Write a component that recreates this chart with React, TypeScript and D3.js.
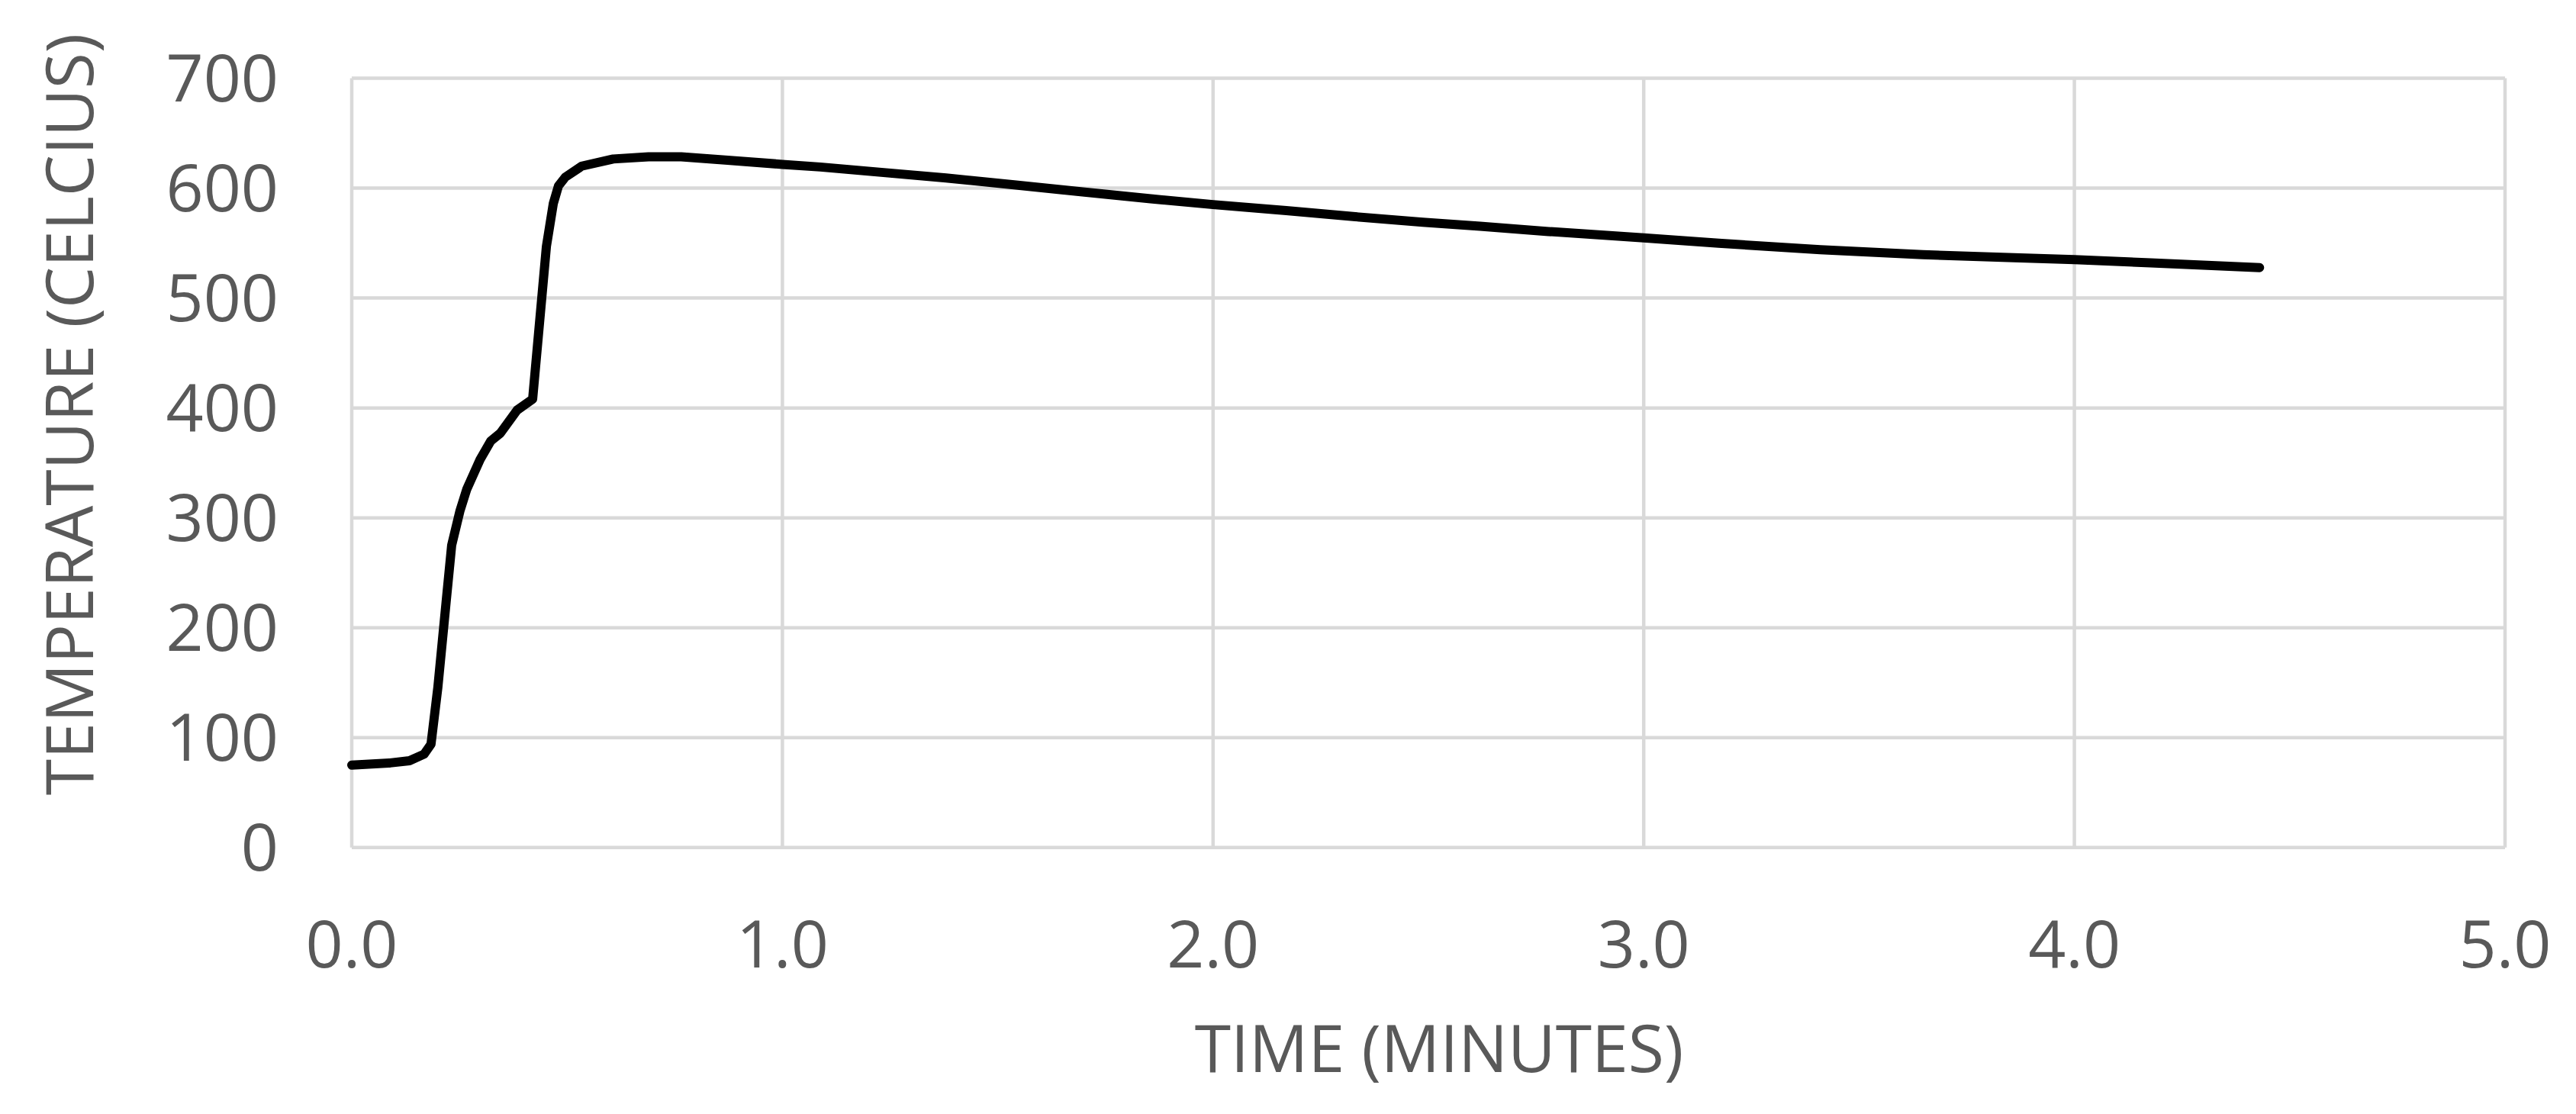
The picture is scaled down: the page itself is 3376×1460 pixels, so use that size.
import React, { useEffect, useRef } from "react";
import * as d3 from "d3";

// time in minutes, temperature in celcius
const timeMin = [
  0, 0.089, 0.134, 0.168, 0.184, 0.2, 0.219, 0.232, 0.251, 0.267, 0.298, 0.323,
  0.345, 0.384, 0.42, 0.452, 0.468, 0.48, 0.496, 0.534, 0.607, 0.689, 0.765,
  0.867, 1.0, 1.088, 1.24, 1.38, 1.538, 1.697, 1.855, 2.0, 2.17, 2.33, 2.487,
  2.62, 2.779, 3.0, 3.174, 3.41, 3.648, 3.86, 4.0, 4.177, 4.43,
];
const tempC = [
  75, 77, 79, 85, 94, 146, 223, 275, 306, 326, 353, 370, 377, 398, 408, 547,
  586, 602, 610, 620, 626.5, 628.5, 628.5, 625.5, 621.6, 619.2, 614, 609.3, 603,
  596.5, 590.3, 585, 579.5, 574, 569, 565.3, 560.5, 554.7, 549.8, 544, 539.5,
  536.6, 535, 532, 527.7,
];
const xTicks = [0, 1, 2, 3, 4, 5];
const yTicks = [0, 100, 200, 300, 400, 500, 600, 700];
const xTitle = "TIME (MINUTES)";
const yTitle = "TEMPERATURE (CELCIUS)";

const W = 3376;
const H = 1460;
const FONT = "'Open Sans', 'Noto Sans', sans-serif";
const TEXT = "#595959";
const GRID = "#d9d9d9";

const TempChart = () => {
  const svgRef = useRef<SVGSVGElement>(null);

  useEffect(() => {
    const svg = d3.select(svgRef.current);
    svg.selectAll("*").remove();

    const x = d3.scaleLinear().domain([0, 5]).range([461, 3283]);
    const y = d3.scaleLinear().domain([0, 700]).range([1110.8, 102.5]);

    const grid = svg.append("g");
    grid
      .selectAll("line.h")
      .data(yTicks)
      .join("line")
      .attr("class", "h")
      .attr("x1", x(0))
      .attr("x2", x(5))
      .attr("y1", (d) => y(d))
      .attr("y2", (d) => y(d))
      .attr("stroke", GRID)
      .attr("stroke-width", 4.5);
    grid
      .selectAll("line.v")
      .data(xTicks)
      .join("line")
      .attr("class", "v")
      .attr("y1", y(0))
      .attr("y2", y(700))
      .attr("x1", (d) => x(d))
      .attr("x2", (d) => x(d))
      .attr("stroke", GRID)
      .attr("stroke-width", 4.5);

    svg
      .append("g")
      .selectAll("text")
      .data(yTicks)
      .join("text")
      .attr("x", 365)
      .attr("y", (d) => y(d) + 30)
      .attr("text-anchor", "end")
      .attr("font-family", FONT)
      .attr("font-size", 86)
      .attr("fill", TEXT)
      .text((d) => d);

    svg
      .append("g")
      .selectAll("text")
      .data(xTicks)
      .join("text")
      .attr("x", (d) => x(d))
      .attr("y", 1268)
      .attr("text-anchor", "middle")
      .attr("font-family", FONT)
      .attr("font-size", 86)
      .attr("fill", TEXT)
      .text((d) => d3.format(".1f")(d));

    svg
      .append("text")
      .attr("x", 1886)
      .attr("y", 1405)
      .attr("text-anchor", "middle")
      .attr("font-family", FONT)
      .attr("font-size", 86)
      .attr("fill", TEXT)
      .text(xTitle);

    svg
      .append("text")
      .attr("transform", "translate(122,543) rotate(-90)")
      .attr("text-anchor", "middle")
      .attr("font-family", FONT)
      .attr("font-size", 86)
      .attr("fill", TEXT)
      .text(yTitle);

    const line = d3
      .line<number>()
      .x((d, i) => x(timeMin[i]))
      .y((d) => y(d));

    svg
      .append("path")
      .datum(tempC)
      .attr("d", line)
      .attr("fill", "none")
      .attr("stroke", "#000")
      .attr("stroke-width", 12)
      .attr("stroke-linejoin", "round")
      .attr("stroke-linecap", "round");
  }, []);

  return (
    <svg
      ref={svgRef}
      width={W}
      height={H}
      style={{ position: "absolute", left: 0, top: 0, background: "#fff" }}
    ></svg>
  );
};

export default function App() {
  return <TempChart />;
}
